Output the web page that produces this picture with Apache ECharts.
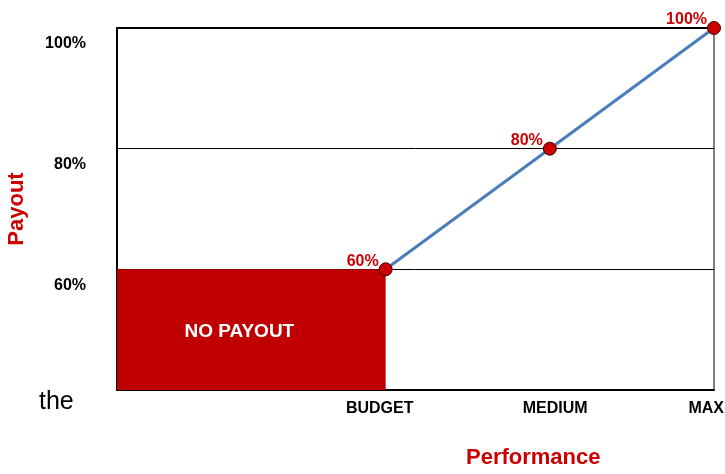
<!DOCTYPE html>
<html>
<head>
<meta charset="utf-8">
<script src="https://cdn.jsdelivr.net/npm/echarts@6/dist/echarts.min.js"></script>
<style>
  html, body { margin: 0; padding: 0; background: #fff; }
  #main { width: 725px; height: 474px; }
</style>
</head>
<body>
<div id="main"></div>
<script>
// performance position (0-100 along the axis) and payout (%)
const perfX = [45, 72.5, 100]
const payout = [60, 80, 100]
const payoutLabels = ['60%', '80%', '100%']
// x axis category labels and where they sit
const xLabelPos = [44, 73.4, 98.7]
const xLabelNames = ['BUDGET', 'MEDIUM', 'MAX']
const yTickLabels = { 60: '60%', 80: '80%', 100: '100%' }
// no payout zone
const noPayoutZone = [[0, 40], [45, 60]]

const chart = echarts.init(document.getElementById('main'))
const font = '"Liberation Sans", Arial, sans-serif'

const option = {
  animation: false,
  textStyle: { fontFamily: font },
  grid: {
    left: 117, right: 11, top: 28, bottom: 84,
    outerBoundsMode: 'none',
    containLabel: false,
    show: true, borderColor: '#000', borderWidth: 1
  },
  xAxis: [
    {
      type: 'value',
      min: 0, max: 100,
      axisLine: { show: true, lineStyle: { color: '#000', width: 2 } },
      axisTick: { show: false },
      splitLine: { show: false },
      axisLabel: {
        customValues: xLabelPos,
        formatter: v => xLabelNames[xLabelPos.indexOf(v)] || '',
        color: '#000', fontWeight: 'bold', fontSize: 16, margin: 11,
        fontFamily: '"Liberation Sans Narrow", "Liberation Sans", Arial, sans-serif'
      }
    },
    {
      // top border of the plot
      type: 'value',
      position: 'top',
      min: 0, max: 100,
      axisLine: { show: true, lineStyle: { color: '#000', width: 2 } },
      axisTick: { show: false },
      axisLabel: { show: false },
      splitLine: { show: false }
    }
  ],
  yAxis: {
    type: 'value',
    min: 40, max: 100, interval: 20,
    name: 'Payout',
    nameLocation: 'middle',
    nameRotate: 90,
    nameGap: 89,
    nameTextStyle: { color: '#cc0000', fontWeight: 'bold', fontSize: 22, fontFamily: font },
    axisLine: { show: true, lineStyle: { color: '#000', width: 2 } },
    axisTick: { show: false },
    splitLine: { show: true, lineStyle: { color: '#000', width: 1 } },
    axisLabel: {
      formatter: v => yTickLabels[v] || '',
      color: '#000', fontWeight: 'bold', fontSize: 16, margin: 31,
      verticalAlign: 'top', padding: [8, 0, 0, 0]
    }
  },
  graphic: [
    {
      type: 'text', left: 39, top: 390,
      style: { text: 'the', fill: '#000', font: '25px "Liberation Sans Narrow", "Liberation Sans", Arial, sans-serif' }
    },
    {
      type: 'text', left: 466, top: 447,
      style: { text: 'Performance', fill: '#cc0000', font: 'bold 22px "Liberation Sans", Arial, sans-serif' }
    }
  ],
  series: [
    {
      type: 'line',
      data: perfX.map((x, i) => [x, payout[i]]),
      lineStyle: { color: '#4a7ebb', width: 3 },
      symbol: 'circle',
      symbolSize: 13,
      itemStyle: { color: '#cc0000', borderColor: '#3a0000', borderWidth: 1 },
      label: {
        show: true,
        position: 'left',
        distance: 0,
        offset: [0, -8],
        formatter: p => payoutLabels[p.dataIndex],
        color: '#cc0000', fontWeight: 'bold', fontSize: 16
      },
      z: 5,
      markArea: {
        silent: true,
        itemStyle: { color: '#c00000', opacity: 1 },
        label: {
          show: true, position: 'inside', offset: [-12, 2],
          color: '#fff', fontWeight: 'bold', fontSize: 19
        },
        data: [[
          { name: 'NO PAYOUT', coord: noPayoutZone[0] },
          { coord: noPayoutZone[1] }
        ]]
      }
    }
  ]
}

chart.setOption(option)
</script>
</body>
</html>
